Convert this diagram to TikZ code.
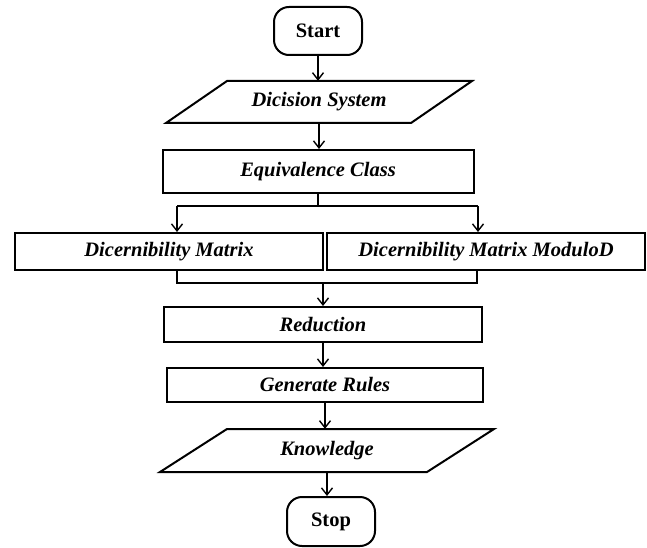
\documentclass[tikz,border=0pt]{standalone}
\usepackage{fontspec}
\setmainfont{Liberation Serif}
\usetikzlibrary{arrows.meta,calc}
\tikzset{
  boxline/.style={line width=2pt, draw=black},
  arr/.style={line width=1.4pt, -{Straight Barb[length=7pt,width=11pt,line width=1.4pt]}},
  conn/.style={line width=1.4pt},
  term/.style={boxline, rounded corners=15pt, fill=white, inner sep=0pt,
    font=\fontsize{20.5}{24}\selectfont\bfseries},
  proc/.style={boxline, fill=white, inner sep=0pt,
    font=\fontsize{20.5}{24}\selectfont\bfseries\itshape},
  iotext/.style={inner sep=0pt, font=\fontsize{20.5}{24}\selectfont\bfseries\itshape},
}
\begin{document}
\begin{tikzpicture}[x=1pt,y=-1pt]
\useasboundingbox (0,0) rectangle (647,548);
% Start
\node[term, minimum width=88pt, minimum height=48pt] (start) at (318,31) {Start};
% Decision system parallelogram
\draw[boxline, fill=white] (166,123) -- (227,81) -- (472,81) -- (411,123) -- cycle;
\node[iotext, minimum width=245pt, minimum height=42pt] (ds) at (319,102) {Dicision System};
% Equivalence class
\node[proc, minimum width=311pt, minimum height=43pt] (ec) at (318,171.5) {Equivalence Class};
% Dicernibility matrices
\node[proc, minimum width=308pt, minimum height=37pt] (dm1) at (169,251.5) {Dicernibility Matrix};
\node[proc, minimum width=318pt, minimum height=37pt] (dm2) at (486,251.5) {Dicernibility Matrix ModuloD};
% Reduction
\node[proc, minimum width=318pt, minimum height=35pt] (red) at (323,324.5) {Reduction};
% Generate rules
\node[proc, minimum width=316pt, minimum height=34pt] (gen) at (325,385) {Generate Rules};
% Knowledge parallelogram
\draw[boxline, fill=white] (160,472) -- (227,429) -- (494,429) -- (427,472) -- cycle;
\node[iotext, minimum width=267pt, minimum height=43pt] (kn) at (327,450.5) {Knowledge};
% Stop
\node[term, minimum width=88pt, minimum height=49pt] (stop) at (331,521.5) {Stop};

% connectors
\draw[arr] (start.south) -- (start.south |- ds.north);
\draw[arr] (ds.south) -- (ds.south |- ec.north);
\coordinate (jl) at (177,206);
\coordinate (jr) at (478,206);
\draw[conn] (ec.south) -- (ec.south |- jl);
\draw[conn] (jl) -- (jr);
\draw[arr] (jl) -- (jl |- dm1.north);
\draw[arr] (jr) -- (jr |- dm2.north);
\coordinate (ml) at (177,283);
\coordinate (mr) at (477,283);
\draw[conn] (ml |- dm1.south) -- (ml) -- (mr) -- (mr |- dm2.south);
\draw[arr] (red.north |- ml) -- (red.north);
\draw[arr] (red.south) -- (red.south |- gen.north);
\draw[arr] (gen.south) -- (gen.south |- kn.north);
\draw[arr] (kn.south) -- (kn.south |- stop.north);
\end{tikzpicture}
\end{document}
